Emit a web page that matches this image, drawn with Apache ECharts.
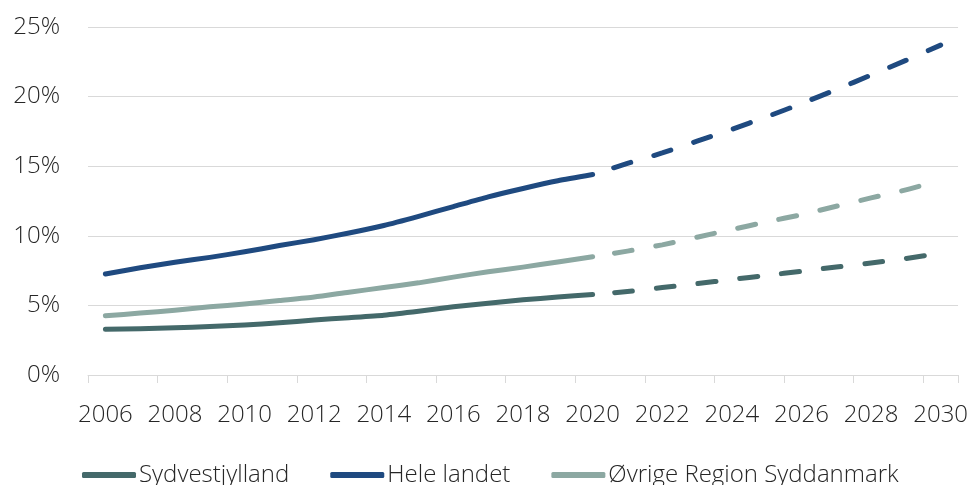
<!DOCTYPE html>
<html>
<head>
<meta charset="utf-8">
<script src="https://cdn.jsdelivr.net/npm/echarts@6/dist/echarts.min.js"></script>
<style>
  html, body { margin: 0; padding: 0; background: #fff; }
  #chart { width: 971px; height: 485px; }
</style>
</head>
<body>
<div id="chart"></div>
<script>
const years = ['2006', '2007', '2008', '2009', '2010', '2011', '2012', '2013', '2014', '2015', '2016', '2017', '2018',
  '2019', '2020', '2021', '2022', '2023', '2024', '2025', '2026', '2027', '2028', '2029', '2030']

// observed 2006-2020 (percent)
const sydvestActual = [3.28, 3.32, 3.4, 3.48, 3.6, 3.75, 3.95, 4.12, 4.3, 4.58, 4.9, 5.15, 5.4, 5.6, 5.78]
const heleActual = [7.25, 7.7, 8.1, 8.45, 8.85, 9.3, 9.72, 10.2, 10.74, 11.4, 12.1, 12.8, 13.4, 13.95, 14.4]
const oevrigeActual = [4.25, 4.45, 4.65, 4.9, 5.1, 5.35, 5.6, 5.95, 6.28, 6.62, 7.03, 7.42, 7.75, 8.12, 8.5]

// projection 2020-2030 (percent)
const sydvestForecast = [5.78, 6.0, 6.28, 6.56, 6.86, 7.16, 7.45, 7.76, 8.05, 8.37, 8.75]
const heleForecast = [14.4, 15.2, 15.95, 16.8, 17.65, 18.55, 19.5, 20.5, 21.55, 22.6, 23.7]
const oevrigeForecast = [8.5, 8.9, 9.35, 9.9, 10.45, 11.0, 11.52, 12.12, 12.72, 13.3, 14.0]

const names = ['Sydvestjylland', 'Hele landet', 'Øvrige Region Syddanmark']
const colors = ['#44696a', '#1f4a80', '#8ca8a2']

const font = '"Open Sans", "Noto Sans", sans-serif'
const forecastStart = years.indexOf('2020')

function padActual(arr) {
  return years.map((_, i) => (i < arr.length ? arr[i] : null))
}
function padForecast(arr) {
  return years.map((_, i) => (i >= forecastStart ? arr[i - forecastStart] : null))
}

const actual = [sydvestActual, heleActual, oevrigeActual]
const forecast = [sydvestForecast, heleForecast, oevrigeForecast]

const series = []
names.forEach((name, k) => {
  series.push({
    name: name,
    type: 'line',
    data: padActual(actual[k]),
    symbol: 'none',
    smooth: 0.2,
    lineStyle: { width: 5, color: colors[k], cap: 'round', join: 'round' },
    itemStyle: { color: colors[k] },
    z: 3,
  })
  series.push({
    name: name + ' (prognose)',
    type: 'line',
    data: padForecast(forecast[k]),
    symbol: 'none',
    smooth: 0.2,
    lineStyle: { width: 5, color: colors[k], type: [18, 24], dashOffset: 20, cap: 'round', join: 'round' },
    itemStyle: { color: colors[k] },
    z: 3,
  })
})

const chart = echarts.init(document.getElementById('chart'), null, { renderer: 'canvas' })
chart.setOption({
  animation: false,
  backgroundColor: '#ffffff',
  grid: { left: 88, right: 11, top: 27, bottom: 110 },
  legend: {
    data: names,
    left: 77,
    top: 458,
    icon: 'roundRect',
    itemWidth: 54,
    itemHeight: 6,
    itemGap: 41,
    textStyle: { fontFamily: font, fontSize: 24, fontWeight: 300, color: '#262626', padding: [0, 0, 0, -2] },
  },
  xAxis: {
    type: 'category',
    data: years,
    boundaryGap: true,
    axisLine: { lineStyle: { color: '#d9d9d9', width: 1 } },
    axisTick: { show: true, interval: 1, length: 8, lineStyle: { color: '#d9d9d9' } },
    axisLabel: { interval: 1, margin: 28, color: '#262626', fontFamily: font, fontSize: 24, fontWeight: 300 },
  },
  yAxis: {
    type: 'value',
    min: 0,
    max: 25,
    interval: 5,
    axisLine: { show: false },
    axisTick: { show: false },
    splitLine: { lineStyle: { color: '#d9d9d9', width: 1 } },
    axisLabel: { formatter: '{value}%', margin: 28, color: '#262626', fontFamily: font, fontSize: 24, fontWeight: 300 },
  },
  series: series,
})
</script>
</body>
</html>
